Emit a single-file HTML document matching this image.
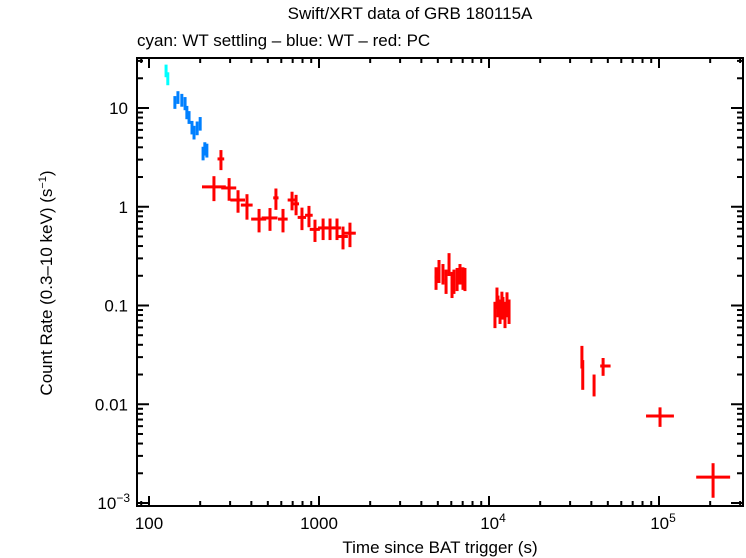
<!DOCTYPE html>
<html><head><meta charset="utf-8"><style>
body{margin:0;background:#fff;}
svg{display:block;font-family:"Liberation Sans",sans-serif;}
</style></head><body>
<svg id="chart" width="746" height="558" viewBox="0 0 746 558" xmlns="http://www.w3.org/2000/svg">
<text x="410" y="19" font-size="17" text-anchor="middle">Swift/XRT data of GRB 180115A</text>
<text x="137" y="46" font-size="17">cyan: WT settling – blue: WT – red: PC</text>
<text transform="translate(52,283) rotate(-90)" font-size="17" text-anchor="middle">Count Rate (0.3–10 keV) (s<tspan dy="-6" font-size="11">−1</tspan><tspan dy="6">)</tspan></text>
<text x="440" y="553" font-size="17" text-anchor="middle">Time since BAT trigger (s)</text>
<g id="marks"></g>
<g id="axes"></g>
</svg>
<script>
const cyanT=[126,129], cyanTe=[1,1], cyanR=[24,20], cyanRe=[3.5,3];
const blueT=[142,148,156,163,167,172,179,184,192,200,208,213,219];
const blueR=[11.5,12.9,12.1,11.2,9.1,8.1,6.4,5.7,6.3,7.0,3.5,3.9,3.75];
const blueTe=[2,2,2,2,2,2,2,2,2,2,2,2,2];
const blueRe=[1.7,1.9,1.8,1.7,1.4,1.2,1.0,0.9,1.0,1.1,0.55,0.6,0.6];
const redT=[241,265,296,334,377,444,515,558,614,694,733,794,873,947,1057,1161,1276,1384,1521,
 4880,5080,5360,5590,5820,6060,6220,6490,6750,7030,7220,
 10840,11140,11290,11610,11910,12080,12420,12760,13120,
 35200,35600,41500,46900,101400,208000];
const redTneg=[36,12,30,33,30,45,55,20,40,40,30,45,45,65,70,80,70,95,125,
 100,100,100,100,100,100,100,100,100,100,100,
 150,150,150,150,150,150,150,150,150,
 400,400,500,1800,17500,42500];
const redTpos=[42,12,30,33,30,45,55,20,40,40,30,45,45,65,70,80,70,95,125,
 100,100,100,100,100,100,100,100,100,100,100,
 150,150,150,150,150,150,150,150,150,
 400,400,500,5000,21000,54000];
const redR=[1.59,3.05,1.55,1.17,1.04,0.75,0.77,1.23,0.75,1.17,1.07,0.78,0.82,0.59,0.61,0.61,0.61,0.50,0.54,
 0.194,0.229,0.213,0.181,0.269,0.169,0.181,0.190,0.213,0.194,0.190,
 0.084,0.122,0.101,0.090,0.108,0.097,0.084,0.106,0.090,
 0.031,0.021,0.016,0.0244,0.0076,0.00183];
const redRe=[0.45,0.7,0.4,0.3,0.3,0.2,0.2,0.3,0.2,0.25,0.25,0.2,0.2,0.15,0.15,0.15,0.15,0.13,0.15,
 0.05,0.06,0.05,0.05,0.07,0.05,0.05,0.05,0.05,0.05,0.05,
 0.025,0.03,0.025,0.025,0.03,0.025,0.025,0.03,0.025,
 0.008,0.007,0.004,0.005,0.0017,0.0007];
const xTickVals=[100,1000,10000,100000];
const yTickVals=[10,1,0.1,0.01,0.001];

const L=137,R=743,T=58,B=506;
const X=t=>149+(Math.log10(t)-2)*170;
const Y=r=>108-(Math.log10(r)-1)*98.75;
const NS="http://www.w3.org/2000/svg";
const marks=document.getElementById('marks'), axes=document.getElementById('axes');
function ln(g,x1,y1,x2,y2,c,w){const e=document.createElementNS(NS,'line');
 e.setAttribute('x1',x1);e.setAttribute('y1',y1);e.setAttribute('x2',x2);e.setAttribute('y2',y2);
 e.setAttribute('stroke',c);e.setAttribute('stroke-width',w);g.appendChild(e);return e;}
function series(name,color,t,tn,tp,r,re,w){
 const g=document.createElementNS(NS,'g');
 
 
 marks.appendChild(g);
 for(let i=0;i<t.length;i++){
  const p=document.createElementNS(NS,'g');
  
  
  g.appendChild(p);
  ln(p,X(t[i]-tn[i]),Y(r[i]),X(t[i]+tp[i]),Y(r[i]),color,w);
  ln(p,X(t[i]),Y(Math.max(r[i]-re[i],1e-5)),X(t[i]),Y(r[i]+re[i]),color,w);
 }
}
series('cyan-wt-settling','#00ffff',cyanT,cyanTe,cyanTe,cyanR,cyanRe,3);
series('blue-wt','#0080ff',blueT,blueTe,blueTe,blueR,blueRe,3);
series('red-pc','#ff0000',redT,redTneg,redTpos,redR,redRe,3);

// frame
const f=document.createElementNS(NS,'rect');
f.setAttribute('x',L);f.setAttribute('y',T);f.setAttribute('width',R-L);f.setAttribute('height',B-T);
f.setAttribute('fill','none');f.setAttribute('stroke','#000');f.setAttribute('stroke-width',2);


axes.appendChild(f);
// x ticks
for(let d=1;d<=5;d++)for(let m=1;m<10;m++){
 const v=Math.pow(10,d)*m, x=X(v); if(x<L||x>R)continue;
 const len=m===1?10:5;
 ln(axes,x,B,x,B-len,'#000',2); ln(axes,x,T,x,T+len,'#000',2);
}
// y ticks
for(let d=-4;d<=1;d++)for(let m=1;m<10;m++){
 const v=Math.pow(10,d)*m, y=Y(v); if(y<T||y>B)continue;
 const len=m===1?12:6;
 ln(axes,L,y,L+len,y,'#000',2); ln(axes,R,y,R-len,y,'#000',2);
}
function txt(s,x,y,anchor,name){const e=document.createElementNS(NS,'text');
 e.setAttribute('x',x);e.setAttribute('y',y);e.setAttribute('font-size','17');e.setAttribute('text-anchor',anchor);
 e.innerHTML=s;
 
 
 axes.appendChild(e);}
const xLab=['100','1000','10<tspan dy="-7" font-size="12">4</tspan>','10<tspan dy="-7" font-size="12">5</tspan>'];
xTickVals.forEach((v,i)=>txt(xLab[i],X(v)+(i>1?4:0),529,'middle','x-tick-label'));
const yLab=['10','1','0.1','0.01','10<tspan dy="-7" font-size="12">−3</tspan>'];
yTickVals.forEach((v,i)=>txt(yLab[i],i===4?130:128,Y(v)+6,'end','y-tick-label'));
</script>
</body></html>
